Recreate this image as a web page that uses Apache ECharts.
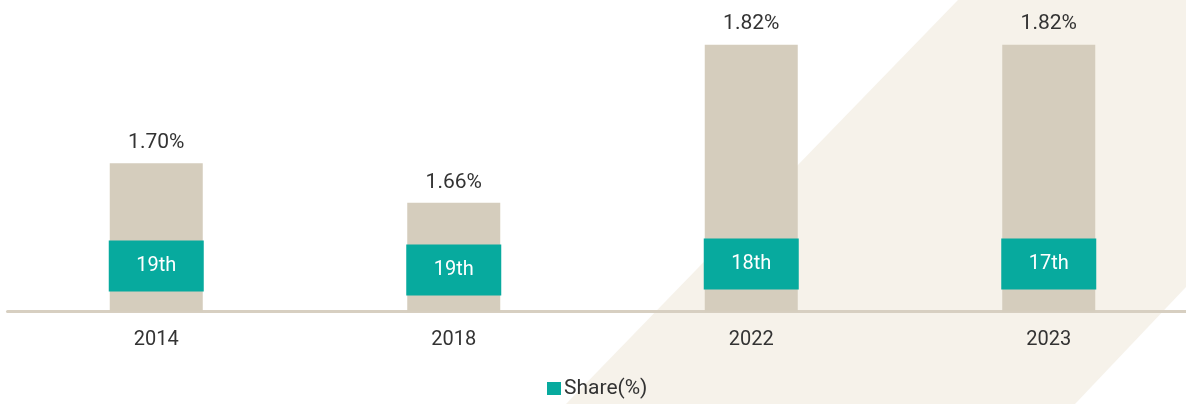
<!DOCTYPE html>
<html>
<head>
<meta charset="utf-8">
<script src="https://cdn.jsdelivr.net/npm/echarts@6/dist/echarts.min.js"></script>
<style>
html,body{margin:0;padding:0;background:#ffffff;}
#chart{width:1186px;height:404px;}
</style>
</head>
<body>
<div id="chart"></div>
<script>
// ---- data ----
const years = ['2014', '2018', '2022', '2023'];
const shareValues = [1.70, 1.66, 1.82, 1.82];
const rankLabels = ['19th', '19th', '18th', '17th'];
const seriesName = 'Share(%)';

// ---- styles ----
const BEIGE = '#d5cdbd';
const TEAL = '#07aa9e';
const BAND = '#f6f2ea';
const AXIS = '#d7cfc1';
const TEXT = '#333333';
const FONT = 'Roboto';
const rankLift = [20, 16, 22, 22];

const chart = echarts.init(document.getElementById('chart'));

const option = {
  animation: false,
  backgroundColor: '#ffffff',
  graphic: {
    elements: [{
      type: 'polygon',
      z: -10,
      silent: true,
      shape: { points: [[958, 0], [1186, 0], [1186, 287], [1075, 404], [566, 404]] },
      style: { fill: BAND }
    }]
  },
  legend: {
    left: 547,
    top: 378,
    padding: 0,
    itemWidth: 14,
    itemHeight: 13,
    itemGap: 10,
    icon: 'rect',
    textStyle: { fontFamily: FONT, fontSize: 21, color: TEXT, padding: [0, 0, 0, -2] },
    data: [{ name: seriesName, itemStyle: { color: TEAL } }]
  },
  grid: {
    left: 7.5, top: 15, width: 1190, height: 296.5,
    containLabel: false,
    outerBoundsMode: 'none'
  },
  xAxis: {
    type: 'category',
    data: years,
    axisLine: { show: true, lineStyle: { color: AXIS, width: 3 } },
    axisTick: { show: false },
    axisLabel: { fontFamily: FONT, fontSize: 20, color: TEXT, margin: 18 },
    splitLine: { show: false }
  },
  yAxis: {
    type: 'value',
    min: 1.55,
    max: 1.85,
    show: false,
    splitLine: { show: false }
  },
  series: [
    {
      name: seriesName,
      type: 'bar',
      barWidth: 93,
      data: shareValues,
      itemStyle: { color: BEIGE },
      label: {
        show: true,
        position: 'top',
        distance: 10,
        fontFamily: FONT,
        fontSize: 21,
        color: TEXT,
        formatter: p => p.value.toFixed(2) + '%'
      },
      z: 2
    },
    {
      name: 'rank',
      type: 'bar',
      barWidth: 93,
      barGap: '-100%',
      data: shareValues.map((v, i) => ({
        value: v,
        label: { distance: rankLift[i] }
      })),
      itemStyle: { color: 'rgba(0,0,0,0)' },
      label: {
        show: true,
        position: 'insideBottom',
        fontFamily: FONT,
        fontSize: 20,
        color: '#ffffff',
        backgroundColor: TEAL,
        width: 95,
        height: 51,
        lineHeight: 51,
        align: 'center',
        padding: 0,
        formatter: p => rankLabels[p.dataIndex]
      },
      z: 3
    }
  ]
};

chart.setOption(option);
</script>
</body>
</html>
